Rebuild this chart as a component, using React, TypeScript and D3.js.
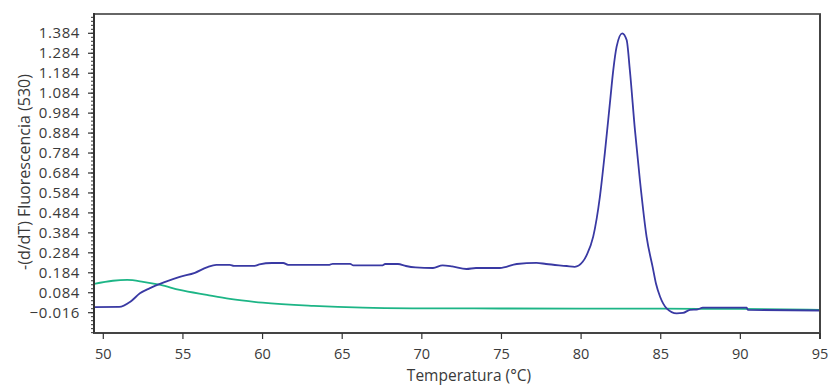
import React from "react";
import * as d3 from "d3";

// Melting curve, sample trace
const sampleTemp = [
  49.43, 51.0, 51.7, 52.3, 52.9, 53.8, 54.8, 55.75, 56.5, 57.1, 57.95, 58.2, 59.5, 59.8,
  60.6, 61.3, 61.6, 64.2, 64.4, 65.5, 65.7, 67.5, 67.7, 68.5, 69.0, 69.6, 70.7, 71.3,
  71.9, 72.8, 73.4, 74.9, 75.96, 77.2, 77.8, 79.1, 79.6, 80.1, 80.35, 80.76, 81.18,
  81.49, 81.81, 82.02, 82.23, 82.58, 82.86, 83.06, 83.38, 83.69, 84.11, 84.5, 84.7,
  84.96, 85.37, 86.0, 86.4, 86.83, 87.33, 87.64, 90.4, 90.47, 95.0,
];
const sampleValue = [
  0.012, 0.013, 0.039, 0.081, 0.106, 0.136, 0.164, 0.184, 0.211, 0.224, 0.224, 0.219,
  0.219, 0.226, 0.233, 0.233, 0.224, 0.224, 0.229, 0.229, 0.221, 0.221, 0.228, 0.228,
  0.218, 0.211, 0.208, 0.221, 0.216, 0.203, 0.208, 0.208, 0.228, 0.234, 0.228, 0.218,
  0.214, 0.239, 0.273, 0.365, 0.565, 0.784, 1.035, 1.2, 1.317, 1.384, 1.35, 1.2, 0.9,
  0.65, 0.365, 0.21, 0.13, 0.064, 0.006, -0.019, -0.017, -0.002, 0.001, 0.009, 0.009,
  -0.002, -0.005,
];

// Melting curve, reference trace
const refTemp = [49.43, 50.6, 51.5, 52.5, 53.6, 54.8, 56.5, 57.95, 60.0, 63.2, 66.3, 69.4, 75.0, 85.0, 90.0, 95.0];
const refValue = [0.128, 0.144, 0.148, 0.139, 0.123, 0.098, 0.073, 0.053, 0.034, 0.018, 0.009, 0.006, 0.005, 0.004, 0.003, -0.002];

const xTicks = [50, 55, 60, 65, 70, 75, 80, 85, 90, 95];
const yTicks = d3.range(0, 15).map((i) => -0.016 + i * 0.1);
const yMinorTicks = d3.range(-0.116, 1.48, 0.02);

const W = 828;
const H = 385;
const plot = { left: 94, right: 820, top: 14, bottom: 333 };

const FONT = "'Open Sans', sans-serif";
const TEXT = "#3a3a3a";

export default function App() {
  const x = d3.scaleLinear().domain([50, 95]).range([103.3, 820]);
  const y = d3.scaleLinear().domain([-0.016, 1.384]).range([312.7, 33.3]);

  const line = d3
    .line<[number, number]>()
    .x((d) => x(d[0]))
    .y((d) => y(d[1]))
    .curve(d3.curveMonotoneX);

  const sample = sampleTemp.map((t, i) => [t, sampleValue[i]] as [number, number]);
  const ref = refTemp.map((t, i) => [t, refValue[i]] as [number, number]);

  return (
    <svg width={W} height={H} style={{ position: "absolute", left: 0, top: 0, background: "#fff" }}>
      <defs>
        <clipPath id="plot-clip">
          <rect x={plot.left} y={plot.top} width={plot.right - plot.left} height={plot.bottom - plot.top} />
        </clipPath>
      </defs>

      <g clipPath="url(#plot-clip)" fill="none" strokeLinejoin="round">
        <path d={line(ref) ?? ""} stroke="#1db586" strokeWidth={1.8} />
        <path d={line(sample) ?? ""} stroke="#3939a3" strokeWidth={1.8} />
      </g>

      {/* frame */}
      <line x1={plot.left} x2={plot.right + 1} y1={plot.top} y2={plot.top} stroke="#666" strokeWidth={2} />
      <line x1={plot.right} x2={plot.right} y1={plot.top} y2={plot.bottom + 6} stroke="#444" strokeWidth={2} />
      <line x1={plot.left} x2={plot.left} y1={plot.top - 1} y2={plot.bottom + 1} stroke="#333" strokeWidth={2} />
      <line x1={plot.left - 1} x2={plot.right + 1} y1={plot.bottom} y2={plot.bottom} stroke="#444" strokeWidth={2} />

      {/* y axis ticks */}
      {yMinorTicks.map((v, i) => (
        <line key={"m" + i} x1={plot.left - 3} x2={plot.left} y1={y(v)} y2={y(v)} stroke="#333" strokeWidth={1} />
      ))}
      {yTicks.map((v, i) => (
        <g key={"y" + i}>
          <line x1={plot.left - 6} x2={plot.left} y1={y(v)} y2={y(v)} stroke="#333" strokeWidth={1.2} />
          <text
            x={80}
            y={y(v) + 5}
            textAnchor="end"
            fontFamily={FONT}
            fontSize={15}
            letterSpacing={0.6}
            fill={TEXT}
          >
            {d3.format(".3f")(v)}
          </text>
        </g>
      ))}

      {/* x axis ticks */}
      {xTicks.map((v) => (
        <g key={"x" + v}>
          <line x1={x(v)} x2={x(v)} y1={plot.bottom} y2={plot.bottom + 6} stroke="#333" strokeWidth={1.2} />
          <text x={x(v)} y={358.5} textAnchor="middle" fontFamily={FONT} fontSize={14.5} fill={TEXT}>
            {v}
          </text>
        </g>
      ))}

      <text x={469} y={380.5} textAnchor="middle" fontFamily={FONT} fontSize={15.5} fill={TEXT}>
        Temperatura (°C)
      </text>
      <text
        transform="translate(30,172) rotate(-90)"
        textAnchor="middle"
        fontFamily={FONT}
        fontSize={16}
        fill={TEXT}
      >
        -(d/dT) Fluorescencia (530)
      </text>
    </svg>
  );
}
